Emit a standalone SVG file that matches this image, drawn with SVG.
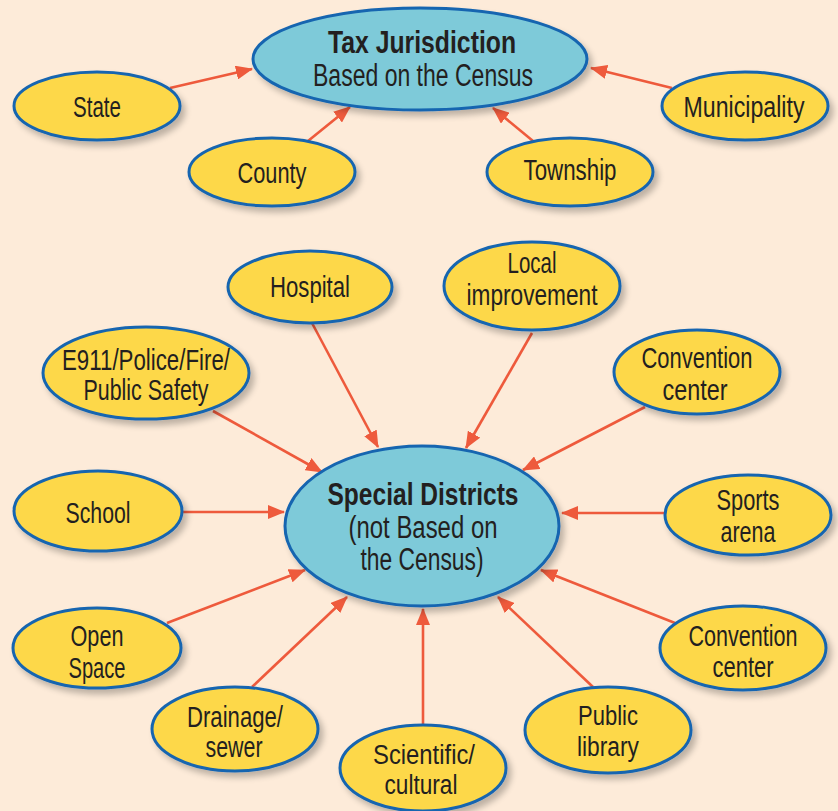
<svg xmlns="http://www.w3.org/2000/svg" width="838" height="811" viewBox="0 0 838 811">
<defs>
<filter id="sh" x="-20%" y="-20%" width="150%" height="160%">
<feGaussianBlur in="SourceAlpha" stdDeviation="3"/>
<feOffset dx="4" dy="5" result="b"/>
<feComponentTransfer><feFuncA type="linear" slope="0.25"/></feComponentTransfer>
<feMerge><feMergeNode/><feMergeNode in="SourceGraphic"/></feMerge>
</filter>
<marker id="ah" viewBox="0 0 17 14" refX="16" refY="7" markerWidth="17" markerHeight="14" orient="auto" markerUnits="userSpaceOnUse">
<path d="M0,0 L17,7 L0,14 z" fill="#EE5A3C"/>
</marker>
</defs>
<style>
.y{fill:#FDD848;stroke:#1565B0;stroke-width:3;filter:url(#sh)}
.b{fill:#7ECAD9;stroke:#1565B0;stroke-width:3;filter:url(#sh)}
text{font-family:"Liberation Sans",Arial,sans-serif;font-size:29.5px;fill:#231F20;text-anchor:middle}
.h{font-weight:bold;font-size:31px}
.m{font-size:31px}
.s{font-size:27px}
#connectors line{stroke:#EE5A3C;stroke-width:2.6;marker-end:url(#ah)}
</style>
<rect width="838" height="811" fill="#FDEBD9"/>
<g id="connectors">
<line x1="170" y1="88" x2="252" y2="69"/>
<line x1="308" y1="141" x2="350" y2="107"/>
<line x1="533" y1="141" x2="493" y2="108"/>
<line x1="672" y1="88" x2="591" y2="68"/>
<line x1="312" y1="323" x2="378" y2="447"/>
<line x1="532" y1="333" x2="466" y2="448"/>
<line x1="213" y1="411" x2="322" y2="472"/>
<line x1="645" y1="407" x2="523" y2="470"/>
<line x1="182" y1="512" x2="284" y2="512"/>
<line x1="664" y1="513" x2="562" y2="513"/>
<line x1="167" y1="623" x2="305" y2="570"/>
<line x1="675" y1="623" x2="541" y2="570"/>
<line x1="252" y1="687" x2="347" y2="597"/>
<line x1="423" y1="724" x2="423" y2="609"/>
<line x1="593" y1="687" x2="498" y2="597"/>
</g>
<g id="tax">
<ellipse class="b" cx="420" cy="59" rx="167" ry="51"/>
<text class="h" x="422" y="53" textLength="188" lengthAdjust="spacingAndGlyphs">Tax Jurisdiction</text>
<text class="m" x="423" y="86" textLength="220" lengthAdjust="spacingAndGlyphs">Based on the Census</text>
</g>
<g id="state">
<ellipse class="y" cx="97" cy="106" rx="83" ry="34"/>
<text x="97" y="117" textLength="48" lengthAdjust="spacingAndGlyphs">State</text>
</g>
<g id="county">
<ellipse class="y" cx="272" cy="172" rx="83" ry="34"/>
<text x="272" y="183" textLength="69" lengthAdjust="spacingAndGlyphs">County</text>
</g>
<g id="township">
<ellipse class="y" cx="570" cy="172" rx="83" ry="34"/>
<text x="570" y="180" textLength="93" lengthAdjust="spacingAndGlyphs">Township</text>
</g>
<g id="municipality">
<ellipse class="y" cx="745" cy="106" rx="83" ry="34"/>
<text x="744" y="117" textLength="121" lengthAdjust="spacingAndGlyphs">Municipality</text>
</g>
<g id="special">
<ellipse class="b" cx="422" cy="526" rx="137" ry="80"/>
<text class="h" x="423" y="505" textLength="191" lengthAdjust="spacingAndGlyphs">Special Districts</text>
<text class="m" x="423" y="538" textLength="149" lengthAdjust="spacingAndGlyphs">(not Based on</text>
<text class="m" x="422" y="570" textLength="123" lengthAdjust="spacingAndGlyphs">the Census)</text>
</g>
<g id="hospital">
<ellipse class="y" cx="310" cy="287" rx="82" ry="36"/>
<text x="310" y="297" textLength="80" lengthAdjust="spacingAndGlyphs">Hospital</text>
</g>
<g id="local">
<ellipse class="y" cx="532" cy="286" rx="88" ry="44"/>
<text x="532" y="273" textLength="49" lengthAdjust="spacingAndGlyphs">Local</text>
<text x="532" y="305" textLength="131" lengthAdjust="spacingAndGlyphs">improvement</text>
</g>
<g id="e911">
<ellipse class="y" cx="146" cy="373" rx="103" ry="46"/>
<text x="146" y="370" textLength="168" lengthAdjust="spacingAndGlyphs">E911/Police/Fire/</text>
<text x="146" y="400" textLength="125" lengthAdjust="spacingAndGlyphs">Public Safety</text>
</g>
<g id="convention1">
<ellipse class="y" cx="697" cy="372" rx="83" ry="42"/>
<text x="697" y="368" textLength="111" lengthAdjust="spacingAndGlyphs">Convention</text>
<text x="695" y="400" textLength="65" lengthAdjust="spacingAndGlyphs">center</text>
</g>
<g id="school">
<ellipse class="y" cx="98" cy="511" rx="84" ry="40"/>
<text x="98" y="523" textLength="65" lengthAdjust="spacingAndGlyphs">School</text>
</g>
<g id="sports">
<ellipse class="y" cx="748" cy="515" rx="83" ry="40"/>
<text x="748" y="510" textLength="63" lengthAdjust="spacingAndGlyphs">Sports</text>
<text x="748" y="542" textLength="55" lengthAdjust="spacingAndGlyphs">arena</text>
</g>
<g id="openspace">
<ellipse class="y" cx="97" cy="648" rx="84" ry="40"/>
<text x="97" y="646" textLength="53" lengthAdjust="spacingAndGlyphs">Open</text>
<text x="97" y="678" textLength="57" lengthAdjust="spacingAndGlyphs">Space</text>
</g>
<g id="convention2">
<ellipse class="y" cx="743" cy="648" rx="83" ry="42"/>
<text x="743" y="646" textLength="109" lengthAdjust="spacingAndGlyphs">Convention</text>
<text x="743" y="677" textLength="61" lengthAdjust="spacingAndGlyphs">center</text>
</g>
<g id="drainage">
<ellipse class="y" cx="235" cy="729" rx="83" ry="42"/>
<text x="235" y="727" textLength="96" lengthAdjust="spacingAndGlyphs">Drainage/</text>
<text x="234" y="757" textLength="57" lengthAdjust="spacingAndGlyphs">sewer</text>
</g>
<g id="scientific">
<ellipse class="y" cx="423" cy="768" rx="83" ry="43"/>
<text class="s" x="424" y="764" textLength="102" lengthAdjust="spacingAndGlyphs">Scientific/</text>
<text class="s" x="421" y="794" textLength="73" lengthAdjust="spacingAndGlyphs">cultural</text>
</g>
<g id="library">
<ellipse class="y" cx="608" cy="730" rx="83" ry="43"/>
<text class="s" x="608" y="725" textLength="60" lengthAdjust="spacingAndGlyphs">Public</text>
<text class="s" x="608" y="756" textLength="62" lengthAdjust="spacingAndGlyphs">library</text>
</g>
</svg>
